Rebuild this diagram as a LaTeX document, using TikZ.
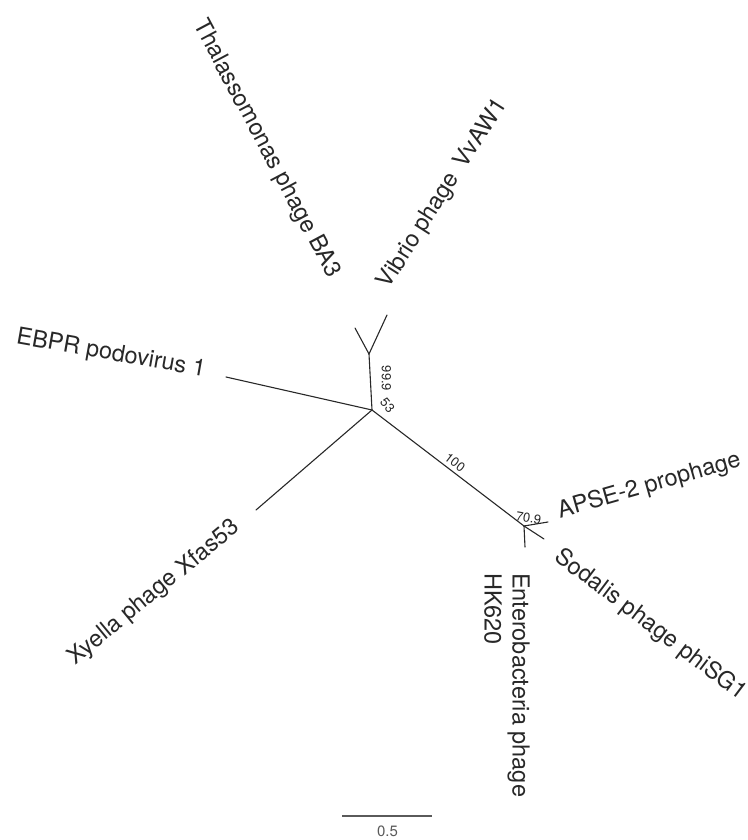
\documentclass[tikz,border=0pt]{standalone}
\usepackage{fontspec}
\setmainfont{TeX Gyre Heros}
\definecolor{ink}{RGB}{40,40,40}
\definecolor{barink}{RGB}{90,90,90}
\tikzset{
  branch/.style={line width=1.1pt, draw=ink, line cap=round},
  leaf/.style={font=\fontsize{23.5pt}{28pt}\selectfont, text=ink, inner sep=0pt, anchor=base},
  support/.style={font=\fontsize{13pt}{15pt}\selectfont, text=ink, inner sep=0pt, anchor=center},
  scalebar/.style={line width=1.3pt, draw=barink},
  scalelabel/.style={font=\fontsize{15pt}{18pt}\selectfont, text=barink, inner sep=0pt, anchor=base}
}
\begin{document}
\begin{tikzpicture}[x=1pt,y=-1pt]
\useasboundingbox (0,0) rectangle (747,840);
% internal nodes and tips
\coordinate (C) at (372,410);
\coordinate (J) at (369,354);
\coordinate (N) at (524,526);
\coordinate (tT) at (355,328);
\coordinate (tV) at (387,315);
\coordinate (tE) at (226,377);
\coordinate (tX) at (256,510);
\coordinate (tA) at (548,522);
\coordinate (tS) at (544,539);
\coordinate (tH) at (525,547);
% branches
\draw[branch] (C) -- (J);
\draw[branch] (J) -- (tT);
\draw[branch] (J) -- (tV);
\draw[branch] (C) -- (tE);
\draw[branch] (C) -- (tX);
\draw[branch] (C) -- (N);
\draw[branch] (N) -- (tA);
\draw[branch] (N) -- (tS);
\draw[branch] (N) -- (tH);
% support values
\node[support, rotate=-90] (s999) at (386.5,378.5) {99.9};
\node[support, rotate=-50] (s53) at (387.5,405.5) {53};
\node[support, rotate=-37.6] (s100) at (455,462.5) {100};
\node[support, rotate=-10] (s709) at (528.5,518) {70.9};
% leaf labels
\node[leaf, rotate=-62] (lT) at (261,152) {Thalassomonas phage BA3};
\node[leaf, rotate=57.5] (lV) at (448,197) {Vibrio phage\hspace{0.45em}VvAW1};
\node[leaf, rotate=-10] (lE) at (110,360) {EBPR podovirus 1};
\node[leaf, rotate=39.5] (lX) at (158,597.5) {Xyella phage Xfas53};
\node[leaf, rotate=16] (lA) at (651,492) {APSE-2 prophage};
\node[leaf, rotate=-37] (lS) at (646.5,630) {Sodalis phage phiSG1};
\node[font=\fontsize{23.5pt}{28pt}\selectfont, text=ink, inner sep=0pt, rotate=-90, anchor=north west, align=left] (lH) at (530,573) {Enterobacteria phage\\HK620};
% scale bar
\coordinate (b1) at (342,816);
\coordinate (b2) at (432,816);
\draw[scalebar] (b1) -- (b2);
\node[scalelabel] (bl) at (387.5,836) {0.5};
\end{tikzpicture}
\end{document}
